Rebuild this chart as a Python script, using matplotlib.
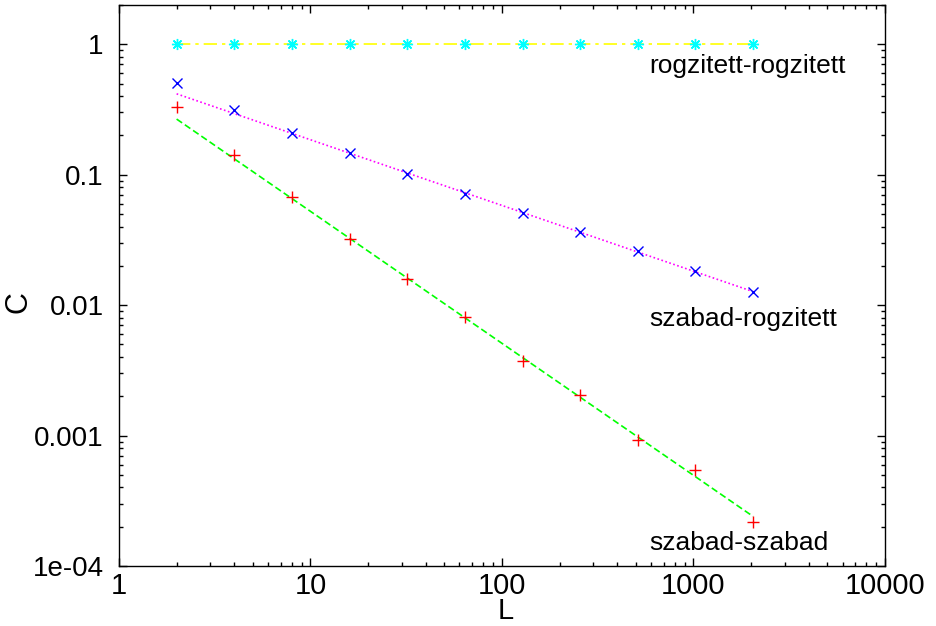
import numpy as np
import matplotlib.pyplot as plt
from matplotlib.ticker import LogLocator, FixedLocator, FixedFormatter, NullFormatter

plt.rcParams['font.family'] = ['Liberation Sans', 'DejaVu Sans']

# system sizes
L = [2, 4, 8, 16, 32, 64, 128, 256, 512, 1024, 2048]

# measured C values
c_rr = [1, 1, 1, 1, 1, 1, 1, 1, 1, 1, 1]
c_sr = [0.503, 0.314, 0.210, 0.146, 0.1005, 0.0715, 0.051, 0.0362, 0.0259, 0.0182, 0.0127]
c_ss = [0.333, 0.142, 0.0675, 0.0324, 0.016, 0.00805, 0.00375, 0.00204, 0.000922, 0.000544, 0.000216]

# fitted power laws (straight on log-log, so the two end points are enough)
fit_L = [2, 2048]
fit_rr = [1, 1]
fit_sr = [0.417, 0.0127]
fit_ss = [0.267, 0.00024]

labels = ['rogzitett-rogzitett', 'szabad-rogzitett', 'szabad-szabad']
label_pos = [(590, 0.68), (590, 0.0079), (590, 0.00015)]

xticks = [1, 10, 100, 1000, 10000]
xticklabels = ['1', '10', '100', '1000', '10000']
yticks = [1e-4, 1e-3, 1e-2, 1e-1, 1]
yticklabels = ['1e-04', '0.001', '0.01', '0.1', '1']

fig = plt.figure(figsize=(9.36, 6.26), dpi=100)
ax = fig.add_axes([0.1271, 0.0958, 0.8184, 0.8962])
ax.set_xscale('log')
ax.set_yscale('log')
ax.set_xlim(1, 10000)
ax.set_ylim(1e-4, 2)

ax.plot(fit_L, fit_rr, color='#ffff00', lw=1.2, dashes=(8, 3, 2, 3))
ax.plot(fit_L, fit_sr, color='#ff00ff', lw=1.2, dashes=(1, 1.5))
ax.plot(fit_L, fit_ss, color='#00ff00', lw=1.2, dashes=(4, 2))

ax.plot(L, c_rr, ls='none', marker=(8, 2, 0), ms=8, mew=1.0, color='#00ffff')
ax.plot(L, c_sr, ls='none', marker='x', ms=7, mew=1.0, color='#0000ff')
ax.plot(L, c_ss, ls='none', marker='+', ms=8, mew=1.0, color='#ff0000')

for txt, (x, y) in zip(labels, label_pos):
    ax.text(x, y, txt, fontsize=19, ha='left', va='center')

ax.xaxis.set_major_locator(FixedLocator(xticks))
ax.xaxis.set_major_formatter(FixedFormatter(xticklabels))
ax.yaxis.set_major_locator(FixedLocator(yticks))
ax.yaxis.set_major_formatter(FixedFormatter(yticklabels))
ax.xaxis.set_minor_locator(LogLocator(base=10, subs=np.arange(2, 10), numticks=20))
ax.yaxis.set_minor_locator(LogLocator(base=10, subs=np.arange(2, 10), numticks=20))
ax.xaxis.set_minor_formatter(NullFormatter())
ax.yaxis.set_minor_formatter(NullFormatter())

ax.tick_params(which='both', direction='in', top=True, right=True, width=1)
ax.tick_params(which='major', length=6)
ax.tick_params(which='minor', length=3)
ax.tick_params(axis='x', labelsize=21, pad=4)
ax.tick_params(axis='y', labelsize=20, pad=11)
for s in ax.spines.values():
    s.set_linewidth(1)

ax.set_xlabel('L', fontsize=21)
ax.set_ylabel('C', fontsize=22)
ax.xaxis.set_label_coords(0.505, -0.055)
ax.yaxis.set_label_coords(-0.112, 0.47)

fig.savefig('out.png', dpi=100)
